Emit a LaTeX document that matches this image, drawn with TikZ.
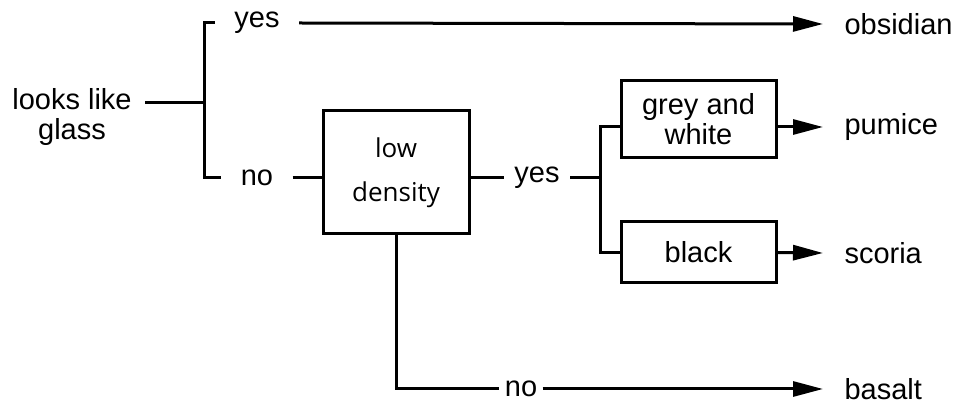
\documentclass[tikz,border=0pt]{standalone}
\usepackage{fontspec}
\setmainfont{Liberation Sans}
\newfontfamily\densfont{Open Sans}
\usetikzlibrary{arrows.meta}

\begin{document}
\begin{tikzpicture}[
  x=0.5pt, y=-0.5pt,
  line width=1.5pt,
  lbl/.style={inner xsep=4.5pt, inner ysep=0pt, align=center, font=\fontsize{14.5}{15}\selectfont},
  leaf/.style={anchor=west, inner xsep=10pt, inner ysep=0pt, font=\fontsize{14.5}{15}\selectfont},
  box/.style={draw, line width=1.5pt, minimum width=77.5pt, align=center, inner sep=0pt, font=\fontsize{14.5}{15}\selectfont},
  arr/.style={-{Triangle[length=15pt, width=7.5pt]}}
]
\useasboundingbox (0,0) rectangle (953,405);

% question and first split
\node[lbl, inner xsep=6pt] (glass) at (72,117) {looks like\\glass};
\coordinate (root) at (204,103);
\node[lbl, inner xsep=9pt] (yes1) at (257,23) {yes};
\node[lbl, inner xsep=9pt] (no1) at (257,178) {no};
\node[leaf] (obs) at (823,24) {obsidian};

\node[box, minimum width=73pt, minimum height=61.5pt, font=\densfont\fontsize{13}{22}\selectfont] (low) at (396,172.5) {low\\density};
\node[lbl] (yes2) at (537,178) {yes};
\coordinate (split) at (600,178);
\node[box, minimum height=38.5pt] (grey) at (698.5,119.5) {grey and\\white};
\node[box, minimum height=30.5pt] (blk) at (698.5,252.5) {black};
\node[leaf] (pum) at (823,127) {pumice};
\node[leaf] (sco) at (823,253) {scoria};

\node[lbl, inner xsep=2pt] (no2) at (521,389) {no};
\node[leaf] (bas) at (823,389) {basalt};

% connectors
\draw (glass.east |- root) -- (root);
\draw (yes1.west) -| (root) |- (no1.west);
\draw[arr] (yes1.east) -- (obs.west);
\draw (no1.east) -- (no1.east -| low.west);
\draw (yes2.west -| low.east) -- (yes2.west);
\draw (yes2.east) -- (split);
\draw (grey.west |- pum.west) -| (split) |- (blk.west);
\draw[arr] (grey.east |- pum.west) -- (pum.west);
\draw[arr] (blk.east) -- (sco.west);
\draw (low.south) |- (no2.west);
\draw[arr] (no2.east) -- (bas.west);
\end{tikzpicture}
\end{document}
